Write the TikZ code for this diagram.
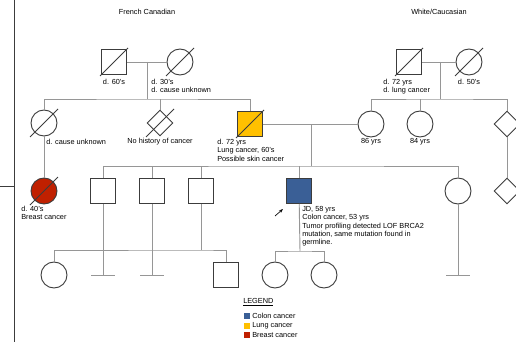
\documentclass[tikz,border=0pt]{standalone}
\usepackage{fontspec}
\setmainfont{Liberation Sans}
\usetikzlibrary{shapes.geometric,arrows.meta}
\definecolor{colon}{RGB}{58,95,150}
\definecolor{lung}{RGB}{255,192,0}
\definecolor{breast}{RGB}{192,32,0}
\definecolor{edge}{RGB}{150,150,150}
\definecolor{outline}{RGB}{60,60,60}
\tikzset{
  male/.style={rectangle,draw=outline,minimum size=18.75pt,inner sep=0pt,line width=0.7pt},
  female/.style={circle,draw=outline,minimum size=19.5pt,inner sep=0pt,line width=0.7pt},
  unknown/.style={diamond,draw=outline,minimum size=19.5pt,inner sep=0pt,line width=0.7pt},
  lbl/.style={inner sep=0pt,font=\fontsize{5.5}{6.3}\selectfont,align=left},
  rel/.style={draw=edge,line width=0.7pt},
  key/.style={rectangle,minimum size=4.5pt,inner sep=0pt},
}
\newcommand{\deceased}[1]{\draw[outline,line width=0.6pt] (#1.center) +(-14,14) -- +(14,-14);}
\begin{document}
\begin{tikzpicture}[x=0.75pt,y=-0.75pt]
  \useasboundingbox (0,0) rectangle (516,342);
  % frame on the left
  \coordinate (bt) at (14,0);
  \coordinate (bb) at (14,342);
  \coordinate (hl) at (0,186);
  \coordinate (hr) at (14,186);
  \draw[outline,line width=0.7pt] (bt) -- (bb);
  \draw[outline,line width=0.7pt] (hl) -- (hr);

  % people
  \path
    (114,62) node[male] (gf1){}
    (180,62) node[female] (gm1){}
    (409,62) node[male] (gf2){}
    (469,62) node[female] (gm2){}
    (44,123) node[female] (aunt){}
    (160,123) node[unknown] (sib){}
    (250,124) node[male,fill=lung] (dad){}
    (371,124) node[female] (mom){}
    (420,124) node[female] (aunt2){}
    (507,124) node[unknown] (sib2){}
    (44,191) node[female,fill=breast] (cousin){}
    (103,191) node[male] (bro1){}
    (152,191) node[male] (bro2){}
    (201,191) node[male] (bro3){}
    (299,191) node[male,fill=colon] (jd){}
    (458,191) node[female] (sis){}
    (507,191) node[unknown] (sib3){}
    (54,275) node[female] (nie1){}
    (226,275) node[male] (nep1){}
    (275,275) node[female] (dau1){}
    (324,275) node[female] (dau2){};
  \deceased{gf1}
  \deceased{gm1}
  \deceased{gf2}
  \deceased{gm2}
  \deceased{aunt}
  \deceased{sib}
  \deceased{dad}
  \deceased{cousin}

  % junctions
  \coordinate (j1) at (147,62);
  \coordinate (s1) at (147,99);
  \coordinate (j2) at (440,62);
  \coordinate (s2) at (440,99);
  \coordinate (j3) at (311,124);
  \coordinate (s3) at (311,166);
  \coordinate (s4) at (201,250);
  \coordinate (s5) at (300,251);
  \coordinate (t1) at (103,275);
  \coordinate (t2) at (152,275);
  \coordinate (t3) at (458,275);

  \begin{scope}[rel]
    \draw (gf1) -- (gm1);
    \draw (j1) -- (s1);
    \draw (aunt.north) |- (s1) -| (dad.north);
    \draw (sib.north) -- (sib.north |- s1);
    \draw (gf2) -- (gm2);
    \draw (j2) -- (s2);
    \draw (mom.north) |- (s2) -| (sib2.north);
    \draw (aunt2.north) -- (aunt2.north |- s2);
    \draw (dad) -- (mom);
    \draw (j3) -- (s3);
    \draw (bro1.north) |- (s3) -| (sis.north);
    \draw (bro2.north) -- (bro2.north |- s3);
    \draw (bro3.north) -- (bro3.north |- s3);
    \draw (jd.north) -- (jd.north |- s3);
    \draw (aunt) -- (cousin);
    \draw (sib2) -- (sib3);
    \draw (bro1) -- (t1);
    \draw (t1) +(-12,0) -- +(12,0);
    \draw (bro2) -- (t2);
    \draw (t2) +(-12,0) -- +(12,0);
    \draw (bro3) -- (s4);
    \draw (nie1.north) |- (s4) -| (nep1.north);
    \draw (jd) -- (s5);
    \draw (dau1.north) |- (s5) -| (dau2.north);
    \draw (sis) -- (t3);
    \draw (t3) +(-12,0) -- +(12,0);
  \end{scope}

  % proband arrow
  \coordinate (arrtail) at (275,216);
  \coordinate (arrhead) at (283,209);
  \draw[-{Stealth[length=3pt]},line width=0.5pt] (arrtail) -- (arrhead);

  % labels
  \node[lbl] (tfc) at (147,12) {French Canadian};
  \node[lbl] (twc) at (439,12) {White/Caucasian};
  \node[lbl] (lgf1) at (114,82) {d. 60's};
  \node[lbl,anchor=north west] (lgm1) at (151,79) {d. 30's\\d. cause unknown};
  \node[lbl,anchor=north west] (lgf2) at (383,79) {d. 72 yrs\\d. lung cancer};
  \node[lbl] (lgm2) at (469,82) {d. 50's};
  \node[lbl,anchor=west] (launt) at (46,142) {d. cause unknown};
  \node[lbl] (lsib) at (160,142) {No history of cancer};
  \node[lbl,anchor=north west] (ldad) at (217,139) {d. 72 yrs\\Lung cancer, 60's\\Possible skin cancer};
  \node[lbl] (lmom) at (371,142) {86 yrs};
  \node[lbl] (launt2) at (420,142) {84 yrs};
  \node[lbl,anchor=north west] (lcousin) at (21,206) {d. 40's\\Breast cancer};
  \node[lbl,anchor=north west] (ljd) at (302,206) {JD, 58 yrs\\Colon cancer, 53 yrs\\Tumor profiling detected LOF BRCA2\\mutation, same mutation found in\\germline.};

  % legend
  \node[lbl,anchor=west] (leg) at (243,302) {\underline{LEGEND}};
  \node[key,fill=colon] (kc) at (247,316) {};
  \node[key,fill=lung] (kl) at (247,325.5) {};
  \node[key,fill=breast] (kb) at (247,335) {};
  \node[lbl,anchor=west] (kct) at (252,316) {Colon cancer};
  \node[lbl,anchor=west] (klt) at (252,325.5) {Lung cancer};
  \node[lbl,anchor=west] (kbt) at (252,335) {Breast cancer};
\end{tikzpicture}
\end{document}
